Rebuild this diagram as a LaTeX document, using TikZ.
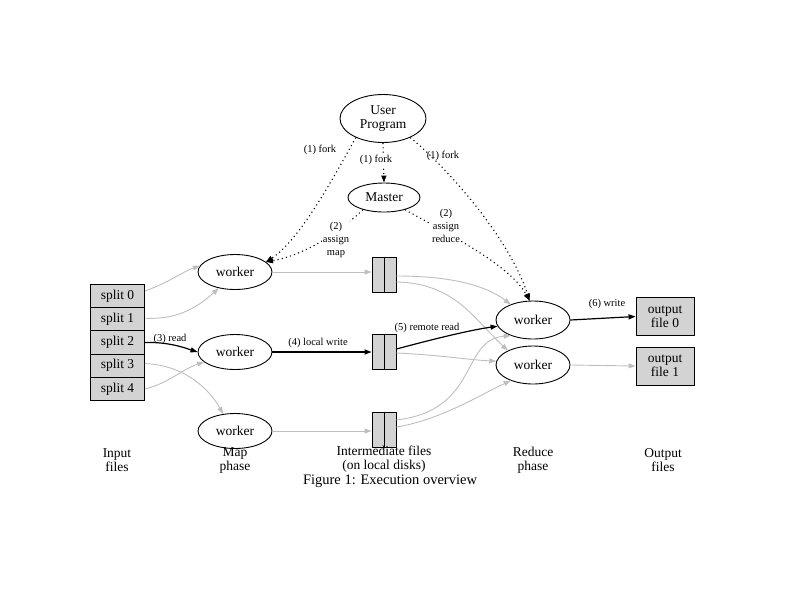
\documentclass[tikz,border=0pt]{standalone}
\usepackage{fontspec}
\setmainfont{Liberation Serif}
\usetikzlibrary{shapes.geometric,arrows.meta}
\definecolor{edgegray}{RGB}{190,190,190}
\definecolor{boxgray}{RGB}{211,211,211}
\begin{document}
\begin{tikzpicture}[x=1pt,y=-1pt,
  every node/.style={font=\fontsize{13.5}{14}\selectfont, inner sep=0pt, align=center},
  ell/.style={ellipse, draw, line width=0.9pt},
  worker/.style={ell, minimum width=74pt, minimum height=35pt},
  rworker/.style={ell, minimum width=74pt, minimum height=38pt},
  splitbox/.style={rectangle, draw, fill=boxgray, line width=0.9pt, minimum width=54pt, minimum height=23.2pt},
  outbox/.style={rectangle, draw, fill=boxgray, line width=0.9pt, minimum width=58pt, minimum height=38pt},
  filebox/.style={rectangle, draw, fill=boxgray, line width=0.9pt, minimum width=24pt, minimum height=35pt},
  lab/.style={font=\fontsize{10.5}{13}\selectfont},
  wlab/.style={lab, fill=white, inner sep=1pt},
  tip/.style={-{Triangle[length=7pt,width=5pt]}},
  grayedge/.style={tip, draw=edgegray, line width=0.9pt},
  blackedge/.style={tip, draw=black, line width=1.2pt},
  dotedge/.style={tip, dash pattern=on 1.1pt off 3.2pt, line width=1.1pt},
]
\useasboundingbox (0,0) rectangle (794,595);

% nodes
\node[ell, minimum width=86pt, minimum height=48pt] (up) at (383,118.5) {User\\Program};
\node[ell, minimum width=72pt, minimum height=29pt] (master) at (384,197.5) {Master};

\node[splitbox] (s0) at (117.5,296) {split 0};
\node[splitbox] (s1) at (117.5,319.2) {split 1};
\node[splitbox] (s2) at (117.5,342.4) {split 2};
\node[splitbox] (s3) at (117.5,365.6) {split 3};
\node[splitbox] (s4) at (117.5,388.8) {split 4};

\node[worker] (m1) at (235,272) {worker};
\node[worker] (m2) at (235,352) {worker};
\node[worker] (m3) at (235,431) {worker};

\node[filebox] (f1) at (384,274.5) {};
\node[filebox] (f2) at (384,352) {};
\node[filebox] (f3) at (384,429.5) {};
\draw[line width=0.9pt] (f1.north) -- (f1.south);
\draw[line width=0.9pt] (f2.north) -- (f2.south);
\draw[line width=0.9pt] (f3.north) -- (f3.south);

\node[rworker] (r1) at (533,320) {worker};
\node[rworker] (r2) at (533,365) {worker};

\node[outbox] (o0) at (665,316.5) {output\\file 0};
\node[outbox] (o1) at (665,366) {output\\file 1};

% bottom labels
\node (lin) at (117,460) {Input\\files};
\node (lmap) at (235,461) {Map\\phase};
\node (lint) at (384,459) {Intermediate files\\(on local disks)};
\node (lred) at (533,460) {Reduce\\phase};
\node (lout) at (663,460) {Output\\files};
\node[font=\fontsize{14.5}{16}\selectfont] (cap) at (390,481) {Figure 1: Execution overview};

% input -> map
\draw[grayedge] ([yshift=5pt]s0.east) .. controls (170,282) and (182,272) .. (m1.170);
\draw[grayedge] ([yshift=1pt]s1.east) .. controls (180,320) and (200,305) .. (m1.-135);
\draw[blackedge] (s2.east) .. controls (170,342) and (185,348) .. (m2.west);
\node[lab] (l3) at (170,339) {(3) read};
\draw[grayedge] ([yshift=2pt]s3.east) .. controls (185,365) and (210,390) .. (m3.125);
\draw[grayedge] (s4.east) .. controls (165,385) and (185,368) .. (m2.-162);

% map -> intermediate
\draw[grayedge] (m1.east) -- (m1.east -| f1.west);
\draw[blackedge] (m2.east) -- (m2.east -| f2.west);
\node[lab] (l4) at (318,343) {(4) local write};
\draw[grayedge] (m3.east) -- (m3.east -| f3.west);

% intermediate -> reduce
\draw[grayedge] ([yshift=-1.5pt]f1.east) .. controls (450,276) and (485,285) .. (r1.145);
\draw[grayedge] ([yshift=-7.5pt]f1.east) .. controls (455,283) and (475,320) .. (r2.150);
\draw[blackedge] ([yshift=3pt]f2.east) .. controls (430,340) and (470,330) .. (r1.-170);
\node[lab] (l5) at (427,328) {(5) remote read};
\draw[grayedge] ([yshift=-1pt]f2.east) .. controls (440,355) and (470,360) .. (r2.174);
\draw[grayedge] ([yshift=9.5pt]f3.east) .. controls (480,410) and (460,340) .. (r1.-145);
\draw[grayedge] ([yshift=2.5pt]f3.east) .. controls (440,420) and (480,395) .. (r2.-145);

% reduce -> output
\draw[blackedge] (r1.east) -- (o0.west);
\node[lab] (l6) at (607,304) {(6) write};
\draw[grayedge] (r2.east) -- (o1.west);

% dotted control edges
\draw[dotedge] (up.-145) .. controls (335,175) and (300,240) .. (m1.18);
\node[lab] (lf1) at (320,150) {(1) fork};
\draw[dotedge] (master.-150) .. controls (340,232) and (305,255) .. (m1.18);
\node[wlab] (la) at (336,240) {(2)\\assign\\map};
\draw[dotedge] (up.south) -- (master.north);
\node[wlab] (lf2) at (376,160) {(1) fork};
\draw[dotedge] (up.-35) .. controls (450,170) and (510,240) .. (r1.100);
\node[lab] (lf3) at (443,156) {(1) fork};
\draw[dotedge] (master.-30) .. controls (450,235) and (510,265) .. (r1.100);
\node[wlab] (lr) at (446,226) {(2)\\assign\\reduce};
\end{tikzpicture}
\end{document}
